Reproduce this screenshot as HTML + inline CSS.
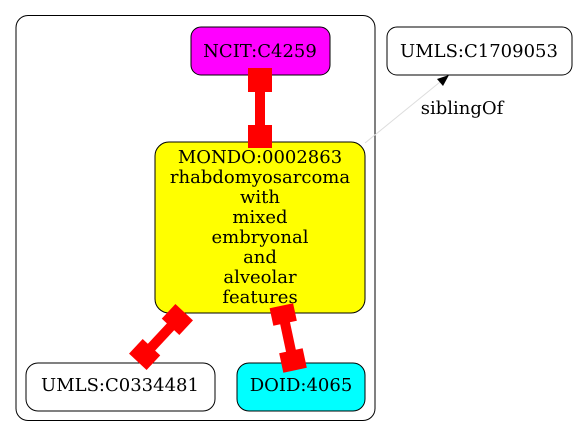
<!DOCTYPE html>
<html><head><style>body{margin:0;background:#fff}svg{display:block}</style></head><body>
<svg width="579" height="437" viewBox="0 0 579 437" xmlns="http://www.w3.org/2000/svg" font-family="'DejaVu Serif', serif" font-size="18">
<rect x="16" y="15.5" width="359" height="405" rx="12" fill="none" stroke="#000" stroke-width="1"/>
<rect x="191" y="27" width="139" height="48" rx="10" fill="#ff00ff" stroke="#000"/>
<text x="260" y="57" text-anchor="middle">NCIT:C4259</text>
<rect x="387" y="27" width="185" height="48" rx="10" fill="#fff" stroke="#000"/>
<text x="479" y="57" text-anchor="middle">UMLS:C1709053</text>
<rect x="155" y="142" width="210" height="171" rx="14" fill="#ffff00" stroke="#000"/>
<g text-anchor="middle">
<text x="260" y="163">MONDO:0002863</text>
<text x="260" y="183">rhabdomyosarcoma</text>
<text x="260" y="203">with</text>
<text x="260" y="223">mixed</text>
<text x="260" y="243">embryonal</text>
<text x="260" y="263">and</text>
<text x="260" y="283">alveolar</text>
<text x="260" y="303">features</text>
</g>
<rect x="26" y="363" width="189" height="48" rx="12" fill="#fff" stroke="#000"/>
<text x="120" y="391" text-anchor="middle">UMLS:C0334481</text>
<rect x="237" y="363" width="128" height="48" rx="12" fill="#00ffff" stroke="#000"/>
<text x="301" y="391" text-anchor="middle">DOID:4065</text>
<rect x="255" y="90" width="10" height="37" fill="#f00"/>
<rect x="248" y="68" width="24" height="24" fill="#f00"/>
<rect x="248" y="125" width="24" height="23" fill="#f00"/>
<g transform="translate(161,337) rotate(43)">
<rect x="-5" y="-20" width="10" height="40" fill="#f00"/>
<rect x="-12" y="-34" width="24" height="20" fill="#f00"/>
<rect x="-12" y="14" width="24" height="20" fill="#f00"/>
</g>
<g transform="translate(288,337) rotate(-12)">
<rect x="-5" y="-20" width="10" height="40" fill="#f00"/>
<rect x="-12" y="-32" width="24" height="18" fill="#f00"/>
<rect x="-12" y="14" width="24" height="20" fill="#f00"/>
</g>
<line x1="365" y1="143" x2="440" y2="82" stroke="#ddd" stroke-width="1"/>
<polygon points="449,75 437,79 443,86" fill="#000"/>
<text x="462" y="114" text-anchor="middle">siblingOf</text>
</svg>
</body></html>
